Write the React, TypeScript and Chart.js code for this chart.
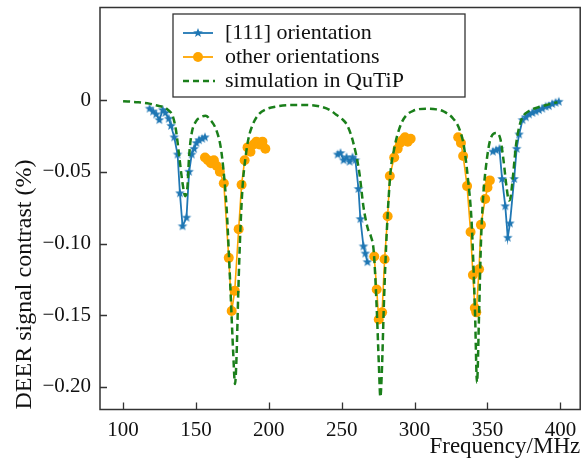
import React, { useEffect, useRef } from "react";
import { Chart, registerables } from "chart.js";

Chart.register(...registerables);

// ---------- data ----------
const xTicks = [100, 150, 200, 250, 300, 350, 400];
const yTicks = [-0.2, -0.15, -0.1, -0.05, 0];
const yTickLabels = ["\u22120.20", "\u22120.15", "\u22120.10", "\u22120.05", "0"];

const blue1Freq = [118.2, 120.6, 122.7, 124.9, 127.2, 129.0, 131.3, 132.9, 135.1, 137.4, 139.0, 140.8, 143.5, 145.3, 147.1, 148.7, 150.3, 152.1, 154.3, 156.2];
const blue1Val = [-0.006, -0.008, -0.010, -0.014, -0.007, -0.009, -0.013, -0.018, -0.026, -0.038, -0.065, -0.088, -0.082, -0.050, -0.038, -0.034, -0.030, -0.028, -0.027, -0.026];

const blue2Freq = [247.2, 249.2, 251.3, 253.3, 255.4, 257.4, 259.4, 261.5, 262.8, 264.9, 266.2, 267.6];
const blue2Val = [-0.038, -0.037, -0.042, -0.040, -0.043, -0.040, -0.042, -0.062, -0.083, -0.102, -0.107, -0.113];

const blue3Freq = [353.7, 355.9, 358.2, 360.0, 362.2, 363.9, 365.4, 368.3, 370.0, 371.7, 374.0, 376.3, 378.5, 380.8, 383.1, 385.3, 387.6, 389.9, 392.1, 394.4, 396.7, 398.9];
const blue3Val = [-0.036, -0.035, -0.034, -0.055, -0.074, -0.096, -0.086, -0.055, -0.034, -0.024, -0.014, -0.012, -0.010, -0.009, -0.008, -0.007, -0.006, -0.0046, -0.0042, -0.0028, -0.0019, -0.0012];

const orange1Freq = [156.2, 158.2, 160.3, 162.3, 164.3, 166.4, 169.1, 172.5, 174.5, 176.6, 179.3, 181.3, 183.4, 185.4, 187.4, 189.5, 191.5, 193.5, 195.6, 197.6];
const orange1Val = [-0.040, -0.042, -0.044, -0.042, -0.046, -0.050, -0.058, -0.110, -0.147, -0.133, -0.090, -0.059, -0.042, -0.033, -0.036, -0.031, -0.029, -0.031, -0.029, -0.034];

const orange2Freq = [272.3, 274.0, 275.4, 277.7, 279.4, 281.5, 283.0, 286.0, 288.4, 290.0, 291.6, 293.4, 295.3, 297.3];
const orange2Val = [-0.109, -0.132, -0.153, -0.148, -0.111, -0.081, -0.053, -0.040, -0.034, -0.030, -0.028, -0.026, -0.029, -0.027];

const orange3Freq = [329.9, 331.8, 333.3, 336.0, 338.4, 340.0, 341.3, 342.3, 344.2, 345.5, 348.4, 350.0, 351.6];
const orange3Val = [-0.026, -0.030, -0.039, -0.060, -0.092, -0.122, -0.145, -0.148, -0.118, -0.087, -0.069, -0.061, -0.056];

const greenFreq = [100, 110, 118, 124, 128, 131, 134, 136.3, 138.5, 140.8, 142.6, 144.2, 145.3, 147.1, 149.9, 153.2, 156.6, 160, 164, 167, 169, 171, 172.5, 174, 175.5, 176.8, 177.8, 179, 180.5, 182, 184, 186, 189, 193, 198, 205, 215, 225, 235, 242, 246, 250, 254, 258, 262, 265, 268, 270, 272, 274, 275.5, 276.5, 277.5, 279, 281, 283.5, 286, 288, 291, 294, 299, 308, 315, 320, 326.5, 331, 333.8, 336.7, 339, 340.2, 341.5, 342.8, 344.2, 345.5, 347, 349, 351.8, 356, 358.8, 361, 363, 364.7, 365.6, 367.2, 369.5, 371.7, 374, 378, 385, 392, 398];
const greenVal = [-0.0008, -0.0015, -0.0025, -0.004, -0.005, -0.007, -0.011, -0.021, -0.039, -0.058, -0.067, -0.060, -0.039, -0.023, -0.015, -0.012, -0.011, -0.014, -0.021, -0.033, -0.050, -0.075, -0.105, -0.140, -0.175, -0.198, -0.180, -0.135, -0.090, -0.060, -0.040, -0.027, -0.017, -0.010, -0.0065, -0.0045, -0.0035, -0.0035, -0.0045, -0.007, -0.010, -0.013, -0.018, -0.030, -0.050, -0.075, -0.090, -0.095, -0.106, -0.145, -0.185, -0.207, -0.190, -0.140, -0.090, -0.050, -0.034, -0.025, -0.016, -0.011, -0.0075, -0.006, -0.0065, -0.008, -0.013, -0.021, -0.032, -0.056, -0.083, -0.111, -0.150, -0.197, -0.150, -0.100, -0.068, -0.046, -0.028, -0.023, -0.027, -0.042, -0.060, -0.070, -0.069, -0.056, -0.032, -0.019, -0.012, -0.008, -0.005, -0.003, -0.0015];

const legendLabels = ["[111] orientation", "other orientations", "simulation in QuTiP"];

// ---------- styles ----------
const BLUE = "#1f77b4";
const ORANGE = "#ffa500";
const GREEN = "#1a7f1a";
const FONT = "'Liberation Serif', 'Times New Roman', serif";

const pts = (xs: number[], ys: number[]) => xs.map((x, i) => ({ x, y: ys[i] }));

function makeStar(color: string, R: number): HTMLCanvasElement {
  const size = Math.ceil(R * 2 + 2);
  const c = document.createElement("canvas");
  c.width = size;
  c.height = size;
  const g = c.getContext("2d")!;
  g.fillStyle = color;
  g.beginPath();
  for (let i = 0; i < 10; i++) {
    const r = i % 2 === 0 ? R : R * 0.42;
    const a = -Math.PI / 2 + (i * Math.PI) / 5;
    g.lineTo(size / 2 + r * Math.cos(a), size / 2 + r * Math.sin(a));
  }
  g.closePath();
  g.fill();
  return c;
}

export default function App() {
  const ref = useRef<HTMLCanvasElement | null>(null);

  useEffect(() => {
    if (!ref.current) return;
    const star = makeStar(BLUE, 5);

    const blueDs = (xs: number[], ys: number[]) => ({
      data: pts(xs, ys),
      borderColor: BLUE,
      backgroundColor: BLUE,
      borderWidth: 1.8,
      pointStyle: star,
      pointRadius: 5,
      order: 2,
    });
    const orangeDs = (xs: number[], ys: number[]) => ({
      data: pts(xs, ys),
      borderColor: ORANGE,
      backgroundColor: ORANGE,
      borderWidth: 1.6,
      pointStyle: "circle",
      pointRadius: 5,
      pointBorderWidth: 0,
      order: 1,
    });

    const framePlugin = {
      id: "frameAndLegend",
      afterDraw(chart: any) {
        const { ctx, chartArea: a, scales } = chart;
        ctx.save();
        ctx.strokeStyle = "#333";
        ctx.lineWidth = 1.5;
        ctx.strokeRect(a.left, a.top, a.right - a.left, a.bottom - a.top);
        ctx.lineWidth = 1.3;
        ctx.beginPath();
        xTicks.forEach((v) => {
          const x = Math.round(scales.x.getPixelForValue(v)) + 0.5;
          ctx.moveTo(x, a.bottom);
          ctx.lineTo(x, a.bottom - 7);
        });
        yTicks.forEach((v) => {
          const y = Math.round(scales.y.getPixelForValue(v)) + 0.5;
          ctx.moveTo(a.left, y);
          ctx.lineTo(a.left + 7, y);
        });
        ctx.stroke();

        // legend
        const lx = 173, ly = 14, lw = 292, lh = 83;
        ctx.fillStyle = "#fff";
        ctx.fillRect(lx, ly, lw, lh);
        ctx.strokeStyle = "#333";
        ctx.lineWidth = 1.3;
        ctx.strokeRect(lx, ly, lw, lh);
        const rows = [33, 57, 81];
        const x0 = 183, x1 = 213;
        ctx.setLineDash([]);
        ctx.strokeStyle = BLUE;
        ctx.lineWidth = 1.8;
        ctx.beginPath();
        ctx.moveTo(x0, rows[0]);
        ctx.lineTo(x1, rows[0]);
        ctx.stroke();
        ctx.drawImage(star, (x0 + x1) / 2 - star.width / 2, rows[0] - star.height / 2);
        ctx.strokeStyle = ORANGE;
        ctx.beginPath();
        ctx.moveTo(x0, rows[1]);
        ctx.lineTo(x1, rows[1]);
        ctx.stroke();
        ctx.fillStyle = ORANGE;
        ctx.beginPath();
        ctx.arc((x0 + x1) / 2, rows[1], 5, 0, Math.PI * 2);
        ctx.fill();
        ctx.strokeStyle = GREEN;
        ctx.lineWidth = 2.5;
        ctx.setLineDash([6, 4]);
        ctx.beginPath();
        ctx.moveTo(x0, rows[2]);
        ctx.lineTo(x1 + 2, rows[2]);
        ctx.stroke();
        ctx.setLineDash([]);
        ctx.fillStyle = "#111";
        ctx.font = `22px ${FONT}`;
        ctx.textBaseline = "middle";
        ctx.textAlign = "left";
        legendLabels.forEach((t, i) => ctx.fillText(t, 225, rows[i]));
        ctx.restore();
      },
    };

    const chart = new Chart(ref.current, {
      type: "line",
      data: {
        datasets: [
          {
            data: pts(greenFreq, greenVal),
            borderColor: GREEN,
            borderWidth: 2.5,
            borderDash: [7, 4],
            pointRadius: 0,
            cubicInterpolationMode: "monotone",
            order: 0,
          } as any,
          orangeDs(orange1Freq, orange1Val),
          orangeDs(orange2Freq, orange2Val),
          orangeDs(orange3Freq, orange3Val),
          blueDs(blue1Freq, blue1Val),
          blueDs(blue2Freq, blue2Val),
          blueDs(blue3Freq, blue3Val),
        ],
      },
      options: {
        animation: false,
        responsive: false,
        devicePixelRatio: 1,
        layout: { padding: { top: 7.5, right: 2, left: 0, bottom: 0 } },
        plugins: { legend: { display: false }, tooltip: { enabled: false } },
        scales: {
          x: {
            type: "linear",
            min: 84.17,
            max: 413.6,
            afterBuildTicks: (s: any) => {
              s.ticks = xTicks.map((v) => ({ value: v }));
            },
            afterFit: (s: any) => {
              s.height = 51.5;
              s.paddingLeft = 0;
              s.paddingRight = 0;
            },
            grid: { display: false, drawTicks: false },
            border: { display: false },
            ticks: {
              color: "#111",
              font: { family: FONT, size: 21 },
              padding: 8,
              maxRotation: 0,
              autoSkip: false,
              callback: (v: any) => String(v),
            },
            title: {
              display: true,
              text: "Frequency/MHz",
              align: "end",
              color: "#111",
              font: { family: FONT, size: 23 },
              padding: { top: 0, bottom: 0 },
            },
          },
          y: {
            type: "linear",
            min: -0.2157,
            max: 0.0645,
            afterBuildTicks: (s: any) => {
              s.ticks = yTicks.map((v) => ({ value: v }));
            },
            afterFit: (s: any) => {
              s.width = 100;
              s.paddingTop = 0;
              s.paddingBottom = 0;
            },
            grid: { display: false, drawTicks: false },
            border: { display: false },
            ticks: {
              color: "#111",
              font: { family: FONT, size: 21 },
              padding: 9,
              autoSkip: false,
              callback: (v: any) => {
                const i = yTicks.findIndex((t) => Math.abs(t - v) < 1e-9);
                return i >= 0 ? yTickLabels[i] : "";
              },
            },
            title: {
              display: true,
              text: "DEER signal contrast (%)",
              align: "start",
              color: "#111",
              font: { family: FONT, size: 24 },
              padding: { top: 10, bottom: 0 },
            },
          },
        },
      },
      plugins: [framePlugin],
    });
    return () => chart.destroy();
  }, []);

  return (
    <div style={{ position: "fixed", left: 0, top: 0, width: 587, height: 461, background: "#fff" }}>
      <canvas ref={ref} width={587} height={461} style={{ width: 587, height: 461, display: "block" }} />
    </div>
  );
}
